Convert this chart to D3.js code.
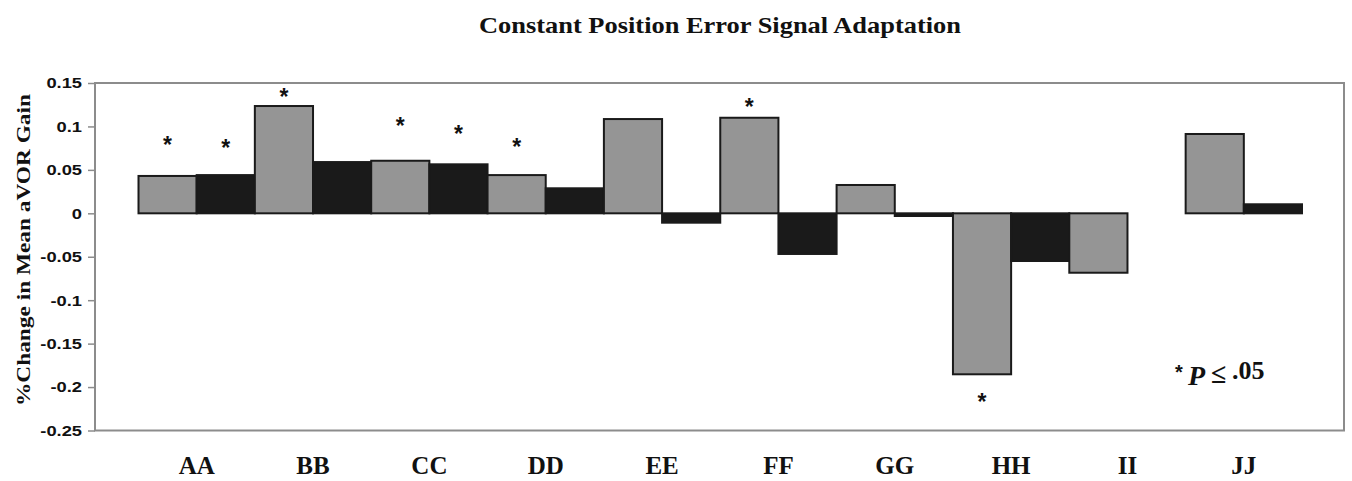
<!DOCTYPE html>
<html>
<head>
<meta charset="utf-8">
<script src="https://cdn.jsdelivr.net/npm/d3@7"></script>
<style>
  html, body { margin: 0; padding: 0; background: #fff; }
  svg { display: block; }
</style>
</head>
<body>
<svg id="chart" width="1352" height="481"></svg>
<script>
// ---- data ----
const categories = ["AA", "BB", "CC", "DD", "EE", "FF", "GG", "HH", "II", "JJ"];
const seriesNames = ["gray", "black"];
const grayValues  = [0.043, 0.1235, 0.0605, 0.044, 0.1085, 0.110, 0.0326, -0.1853, -0.0684, 0.0913];
const blackValues = [0.044, 0.059, 0.0564, 0.0288, -0.0108, -0.0468, -0.0031, -0.0549, 0, 0.0104];
// significance markers: category, series, value where the asterisk sits
const starCats   = ["AA", "AA", "BB", "CC", "CC", "DD", "FF", "HH"];
const starSeries = ["gray", "black", "gray", "gray", "black", "gray", "gray", "gray"];
const starValues = [0.0844, 0.0806, 0.1396, 0.1066, 0.0974, 0.082, 0.1285, -0.211];
const yTickValues = [0.15, 0.1, 0.05, 0, -0.05, -0.1, -0.15, -0.2, -0.25];
const yTickLabels = ["0.15", "0.1", "0.05", "0", "-0.05", "-0.1", "-0.15", "-0.2", "-0.25"];
const titleText = "Constant Position Error Signal Adaptation";
const yLabelText = "%Change in Mean aVOR Gain";

// ---- layout ----
const svg = d3.select("#chart");
const frame = { left: 95, right: 1344, top: 83, bottom: 430.5 };
const barsLeft = 138.5, barsRight = 1302;
const serif = "'Liberation Serif', 'Times New Roman', serif";
const sans = "'Liberation Sans', Arial, sans-serif";
const colors = { gray: "#959595", black: "#1a1a1a" };

const y = d3.scaleLinear().domain([-0.25, 0.15]).range([frame.bottom, frame.top]);
const x0 = d3.scaleBand().domain(categories).range([barsLeft, barsRight]).padding(0);
const x1 = d3.scaleBand().domain(seriesNames).range([0, x0.bandwidth()]).padding(0);

// title
svg.append("text")
  .attr("x", 720).attr("y", 33)
  .attr("text-anchor", "middle")
  .attr("textLength", 482).attr("lengthAdjust", "spacingAndGlyphs")
  .style("font-family", serif).style("font-weight", "bold").style("font-size", "24px")
  .attr("fill", "#111")
  .text(titleText);

// frame
svg.append("rect")
  .attr("x", frame.left).attr("y", frame.top)
  .attr("width", frame.right - frame.left).attr("height", frame.bottom - frame.top)
  .attr("fill", "none").attr("stroke", "#8c8c8c").attr("stroke-width", 2);

// y axis
const yAxis = d3.axisLeft(y).tickValues(yTickValues)
  .tickFormat((d, i) => yTickLabels[i]).tickSize(7).tickPadding(6);
const gy = svg.append("g").attr("transform", `translate(${frame.left},0)`).call(yAxis);
gy.select(".domain").remove();
gy.selectAll(".tick line").attr("stroke", "#8c8c8c").attr("stroke-width", 1.5);
gy.selectAll(".tick text")
  .style("font-family", sans).style("font-weight", "bold").style("font-size", "15px")
  .attr("fill", "#111")
  .each(function () {
    const len = this.getComputedTextLength();
    d3.select(this).attr("textLength", len * 1.22).attr("lengthAdjust", "spacingAndGlyphs");
  });

// y label
svg.append("text")
  .attr("transform", `translate(30,${250}) rotate(-90)`)
  .attr("text-anchor", "middle")
  .attr("textLength", 312).attr("lengthAdjust", "spacingAndGlyphs")
  .style("font-family", serif).style("font-weight", "bold").style("font-size", "19px")
  .attr("fill", "#111")
  .text(yLabelText);

// bars
const rows = categories.map((c, i) => ({ cat: c, vals: [
  { s: "gray", v: grayValues[i] }, { s: "black", v: blackValues[i] } ] }));
const groups = svg.append("g").selectAll("g").data(rows).join("g")
  .attr("transform", d => `translate(${x0(d.cat)},0)`);
groups.selectAll("rect").data(d => d.vals.filter(e => e.v !== 0)).join("rect")
  .attr("x", d => x1(d.s))
  .attr("width", x1.bandwidth())
  .attr("y", d => y(Math.max(0, d.v)))
  .attr("height", d => Math.abs(y(d.v) - y(0)))
  .attr("fill", d => colors[d.s])
  .attr("stroke", "#1a1a1a").attr("stroke-width", 2);

// x axis labels
const xAxis = d3.axisBottom(x0).tickSize(0).tickPadding(0);
const gx = svg.append("g").attr("transform", `translate(0,${frame.bottom})`).call(xAxis);
gx.select(".domain").remove();
gx.selectAll(".tick text")
  .attr("y", 43).attr("dy", 0)
  .style("font-family", serif).style("font-weight", "bold").style("font-size", "25px")
  .attr("fill", "#111");

// asterisks
svg.append("g").selectAll("text").data(starCats.map((c, i) => ({ c, s: starSeries[i], v: starValues[i] })))
  .join("text")
  .attr("x", d => x0(d.c) + x1(d.s) + x1.bandwidth() / 2)
  .attr("y", d => y(d.v) + 13)
  .attr("text-anchor", "middle")
  .style("font-family", sans).style("font-weight", "bold").style("font-size", "23px")
  .attr("fill", "#111")
  .text("*");

// legend note
const note = svg.append("g").attr("fill", "#111")
  .style("font-family", serif).style("font-weight", "bold");
note.append("text").attr("x", 1175).attr("y", 379)
  .style("font-family", sans).style("font-size", "20px").text("*");
note.append("text").attr("x", 1188).attr("y", 385)
  .style("font-style", "italic").style("font-size", "28px").text("P");
note.append("text").attr("x", 1211).attr("y", 383)
  .style("font-size", "28px").text("≤");
note.append("text").attr("x", 1232).attr("y", 379)
  .style("font-size", "26px").text(".05");
</script>
</body>
</html>
